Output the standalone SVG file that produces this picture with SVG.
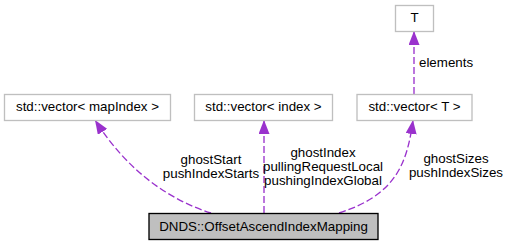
<svg xmlns="http://www.w3.org/2000/svg" width="507" height="245" viewBox="0 0 507 245">
<style>
  text { font-family: "Liberation Sans", Arial, sans-serif; font-size: 13.33px; fill: #000; }
  .node { fill: #fff; stroke: #bfbfbf; stroke-width: 1.33; }
  .main { fill: #bfbfbf; stroke: #000; stroke-width: 1.33; }
  .edge { fill: none; stroke: #9a32cd; stroke-width: 1.33; stroke-dasharray: 7,3; }
  .mid { text-anchor: middle; }
</style>
<defs>
  <marker id="arrow" viewBox="0 0 14 11" refX="14" refY="5.5" markerWidth="14" markerHeight="11" markerUnits="userSpaceOnUse" orient="auto">
    <path d="M0,0 L14,5.5 L0,11 Z" fill="#9a32cd"/>
  </marker>
</defs>
<rect width="507" height="245" fill="#fff"/>

<g id="connectors">
  <path class="edge" d="M211,213 C170,200 128,172 95,120" marker-end="url(#arrow)"/>
  <path class="edge" d="M264,213 L264,120" marker-end="url(#arrow)"/>
  <path class="edge" d="M339,213 C395,195 407,165 413,120" marker-end="url(#arrow)"/>
  <path class="edge" d="M414,94 L414,31" marker-end="url(#arrow)"/>
</g>

<g id="edge-labels">
  <text class="mid" x="211" y="164">ghostStart</text>
  <text class="mid" x="211" y="178">pushIndexStarts</text>
  <text class="mid" x="323" y="157">ghostIndex</text>
  <text class="mid" x="323" y="171">pullingRequestLocal</text>
  <text class="mid" x="323" y="185">pushingIndexGlobal</text>
  <text class="mid" x="456" y="163">ghostSizes</text>
  <text class="mid" x="456" y="177">pushIndexSizes</text>
  <text x="419" y="67">elements</text>
</g>

<g id="node-main">
  <rect class="main" x="149" y="213.5" width="229" height="26"/>
  <text class="mid" x="263.5" y="231">DNDS::OffsetAscendIndexMapping</text>
</g>
<g id="node-vec-mapIndex">
  <rect class="node" x="4.5" y="94.5" width="166" height="26"/>
  <text class="mid" x="87.5" y="111">std::vector&lt; mapIndex &gt;</text>
</g>
<g id="node-vec-index">
  <rect class="node" x="194.5" y="94.5" width="138" height="26"/>
  <text class="mid" x="263.5" y="111">std::vector&lt; index &gt;</text>
</g>
<g id="node-vec-T">
  <rect class="node" x="357" y="94.5" width="115" height="26"/>
  <text class="mid" x="414.5" y="111">std::vector&lt; T &gt;</text>
</g>
<g id="node-T">
  <rect class="node" x="395.5" y="5.5" width="38" height="26"/>
  <text class="mid" x="414.5" y="22">T</text>
</g>
</svg>
